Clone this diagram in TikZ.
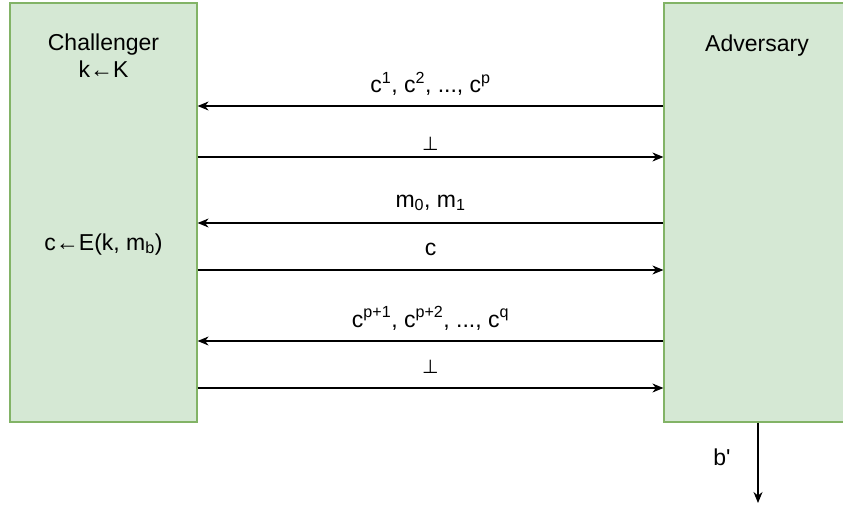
\documentclass[tikz,border=0pt]{standalone}
\usepackage{fontspec}
\setmainfont{Liberation Sans}
\newfontfamily\dejavu{DejaVu Sans}
\usetikzlibrary{arrows.meta}
\definecolor{boxfill}{HTML}{D5E8D4}
\definecolor{boxline}{HTML}{82B366}
\begin{document}
\begin{tikzpicture}[x=1pt,y=-1pt,
  party/.style={draw=boxline,fill=boxfill,line width=1.2pt,minimum width=187pt,minimum height=419pt,inner sep=0pt},
  msg/.style={line width=1.1pt,-{Stealth[length=11pt,width=9pt,inset=3.5pt]}},
  txt/.style={font=\fontsize{23}{27}\selectfont,anchor=base,inner sep=0pt}]
\useasboundingbox (0,0) rectangle (843,508);
\clip (0,0) rectangle (843,508);
\node[party] (ch) at (103.5,212.5) {};
\node[party,minimum width=188pt] (adv) at (758,212.5) {};
\node[txt] (t1) at (103.5,51) {Challenger};
\node[txt] (t2) at (103.5,78) {k←K};
\node[txt] (t3) at (103.5,250) {c←E(k, m\textsubscript{b})};
\node[txt] (t4) at (757,52) {Adversary};
% messages
\draw[msg] (adv.west |- 0,106) -- (ch.east |- 0,106) node[txt,midway,yshift=13pt] (l1) {c\textsuperscript{1}, c\textsuperscript{2}, ..., c\textsuperscript{p}};
\draw[msg] (ch.east |- 0,157) -- (adv.west |- 0,157) node[txt,midway,yshift=7pt] (l2) {\dejavu\fontsize{19}{22}\selectfont ⊥};
\draw[msg] (adv.west |- 0,223) -- (ch.east |- 0,223) node[txt,midway,yshift=16pt] (l3) {m\textsubscript{0}, m\textsubscript{1}};
\draw[msg] (ch.east |- 0,270) -- (adv.west |- 0,270) node[txt,midway,yshift=15pt] (l4) {c};
\draw[msg] (adv.west |- 0,341) -- (ch.east |- 0,341) node[txt,midway,yshift=14pt] (l5) {c\textsuperscript{p+1}, c\textsuperscript{p+2}, ..., c\textsuperscript{q}};
\draw[msg] (ch.east |- 0,388) -- (adv.west |- 0,388) node[txt,midway,yshift=15pt] (l6) {\dejavu\fontsize{19}{22}\selectfont ⊥};
\coordinate (bend) at (758,503);
\draw[msg] (adv.south) -- (bend);
\node[txt] (lb) at (722,465) {b\textquotesingle};
\end{tikzpicture}
\end{document}
